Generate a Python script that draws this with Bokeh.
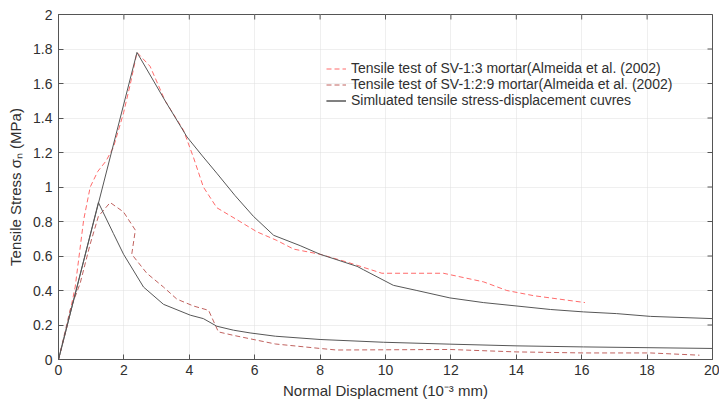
import math
from bokeh.plotting import figure
from bokeh.models import FixedTicker, Legend, LegendItem, Range1d
from bokeh.embed import file_html
from bokeh.resources import INLINE

# Tensile test SV-1:3 mortar (Almeida et al. 2002)
t13_x = [0, 0.26, 0.51, 0.77, 0.97, 1.2, 1.45, 1.68, 1.99, 2.2, 2.4, 2.8, 3.26, 3.82, 4.13, 4.43,
         4.84, 5.46, 6.07, 6.68, 7.19, 8.0, 8.82, 9.89, 11.77, 13.0, 13.71, 14.53, 16.1]
t13_y = [0, 0.19, 0.42, 0.81, 1.0, 1.09, 1.15, 1.23, 1.43, 1.6, 1.78, 1.70, 1.50, 1.33, 1.17, 1.0,
         0.88, 0.81, 0.74, 0.69, 0.64, 0.61, 0.565, 0.50, 0.50, 0.45, 0.40, 0.37, 0.33]

# Tensile test SV-1:2:9 mortar
t129_x = [0, 0.36, 0.66, 0.97, 1.22, 1.58, 1.99, 2.35, 2.24, 2.70, 3.21, 3.62, 4.13, 4.59, 4.89,
          5.35, 5.86, 6.63, 8.0, 8.5, 11.97, 14.0, 16.05, 18.1, 19.6]
t129_y = [0, 0.29, 0.44, 0.67, 0.83, 0.91, 0.855, 0.75, 0.61, 0.50, 0.42, 0.35, 0.31, 0.285, 0.16,
          0.14, 0.12, 0.09, 0.064, 0.055, 0.058, 0.044, 0.038, 0.038, 0.025]

# Simulated curves
sim1_x = [0, 2.4, 3.26, 3.93, 4.4, 4.84, 5.4, 5.96, 6.58, 7.39, 8.0, 9.13, 9.33, 10.24, 10.96,
          11.97, 12.99, 14.02, 15.04, 16.05, 17.07, 18.1, 20]
sim1_y = [0, 1.78, 1.50, 1.29, 1.18, 1.08, 0.95, 0.83, 0.72, 0.66, 0.61, 0.54, 0.52, 0.43, 0.40,
          0.357, 0.33, 0.31, 0.29, 0.276, 0.266, 0.25, 0.237]

sim2_x = [0, 1.22, 1.68, 1.99, 2.6, 3.21, 4.03, 4.43, 4.84, 5.35, 5.86, 6.63, 8.0, 9.94, 11.97,
          14.02, 16.05, 20]
sim2_y = [0, 0.91, 0.73, 0.61, 0.42, 0.32, 0.257, 0.237, 0.193, 0.17, 0.154, 0.135, 0.116, 0.10,
          0.089, 0.079, 0.073, 0.064]

x_ticks = [0, 2, 4, 6, 8, 10, 12, 14, 16, 18, 20]
x_tick_labels = ["0", "2", "4", "6", "8", "10", "12", "14", "16", "18", "20"]
y_ticks = [0, 0.2, 0.4, 0.6, 0.8, 1.0, 1.2, 1.4, 1.6, 1.8, 2.0]
y_tick_labels = ["0", "0.2", "0.4", "0.6", "0.8", "1", "1.2", "1.4", "1.6", "1.8", "2"]

legend_labels = [
    "Tensile test of SV-1:3 mortar(Almeida et al. (2002)",
    "Tensile test of SV-1:2:9 mortar(Almeida et al. (2002)",
    "Simluated tensile stress-displacement cuvres",
]

FONT = "Liberation Sans"
AX_COL = "#555555"
TXT_COL = "#303030"
X_MIN, X_MAX, Y_MIN, Y_MAX = 0, 20, 0, 2

p = figure(width=719, height=408, output_backend="svg", toolbar_location=None,
           x_range=Range1d(X_MIN, X_MAX), y_range=Range1d(Y_MIN, Y_MAX),
           min_border_left=58, min_border_right=7, min_border_top=14, min_border_bottom=49)
p.outline_line_color = AX_COL
p.outline_line_width = 1
p.background_fill_color = "white"
p.border_fill_color = "white"

p.grid.grid_line_color = "#dedede"
p.grid.grid_line_dash = "1 1"
p.grid.grid_line_width = 1

c1 = p.line(t13_x, t13_y, line_color="#ff6b6b", line_width=1, line_dash="5 3")
c2 = p.line(t129_x, t129_y, line_color="#c0625f", line_width=1, line_dash="5 3")
s1 = p.line(sim1_x, sim1_y, line_color="#575757", line_width=1)
s2 = p.line(sim2_x, sim2_y, line_color="#575757", line_width=1)

for ax, ticks, labels in ((p.xaxis[0], x_ticks, x_tick_labels), (p.yaxis[0], y_ticks, y_tick_labels)):
    ax.ticker = FixedTicker(ticks=ticks)
    ax.major_label_overrides = {t: l for t, l in zip(ticks, labels)}
    ax.major_tick_in = 5
    ax.major_tick_out = 0
    ax.minor_tick_in = 0
    ax.minor_tick_out = 0
    ax.axis_line_color = AX_COL
    ax.major_tick_line_color = AX_COL
    ax.major_label_text_font = FONT
    ax.major_label_text_font_size = "14px"
    ax.major_label_text_color = TXT_COL
    ax.axis_label_text_font = FONT
    ax.axis_label_text_font_size = "15px"
    ax.axis_label_text_font_style = "normal"
    ax.axis_label_text_color = TXT_COL

p.xaxis[0].axis_label = "Normal Displacment (10\u207b\u00b3 mm)"
p.xaxis[0].major_label_standoff = 5
p.xaxis[0].axis_label_standoff = 4
p.yaxis[0].axis_label = "Tensile Stress \u03c3\u2099 (MPa)"
p.yaxis[0].major_label_standoff = 6
p.yaxis[0].axis_label_standoff = 6

# inward ticks on the right and top edges of the box (markers clipped to the frame)
p.scatter([X_MAX] * len(y_ticks), y_ticks, marker="dash", size=10, line_color=AX_COL, line_width=1)
p.scatter(x_ticks, [Y_MAX] * len(x_ticks), marker="dash", size=10, angle=math.pi / 2,
          line_color=AX_COL, line_width=1)

legend = Legend(items=[
    LegendItem(label=legend_labels[0], renderers=[c1]),
    LegendItem(label=legend_labels[1], renderers=[c2]),
    LegendItem(label=legend_labels[2], renderers=[s1, s2]),
], location=(264, 247))
legend.background_fill_alpha = 0
legend.border_line_alpha = 0
legend.label_text_font = FONT
legend.label_text_font_size = "14px"
legend.label_text_color = TXT_COL
legend.glyph_width = 20
legend.glyph_height = 15
legend.label_height = 15
legend.label_standoff = 5
legend.spacing = 0
legend.padding = 4
legend.margin = 0
p.add_layout(legend, "center")

open("out.html", "w").write(file_html(p, INLINE))
